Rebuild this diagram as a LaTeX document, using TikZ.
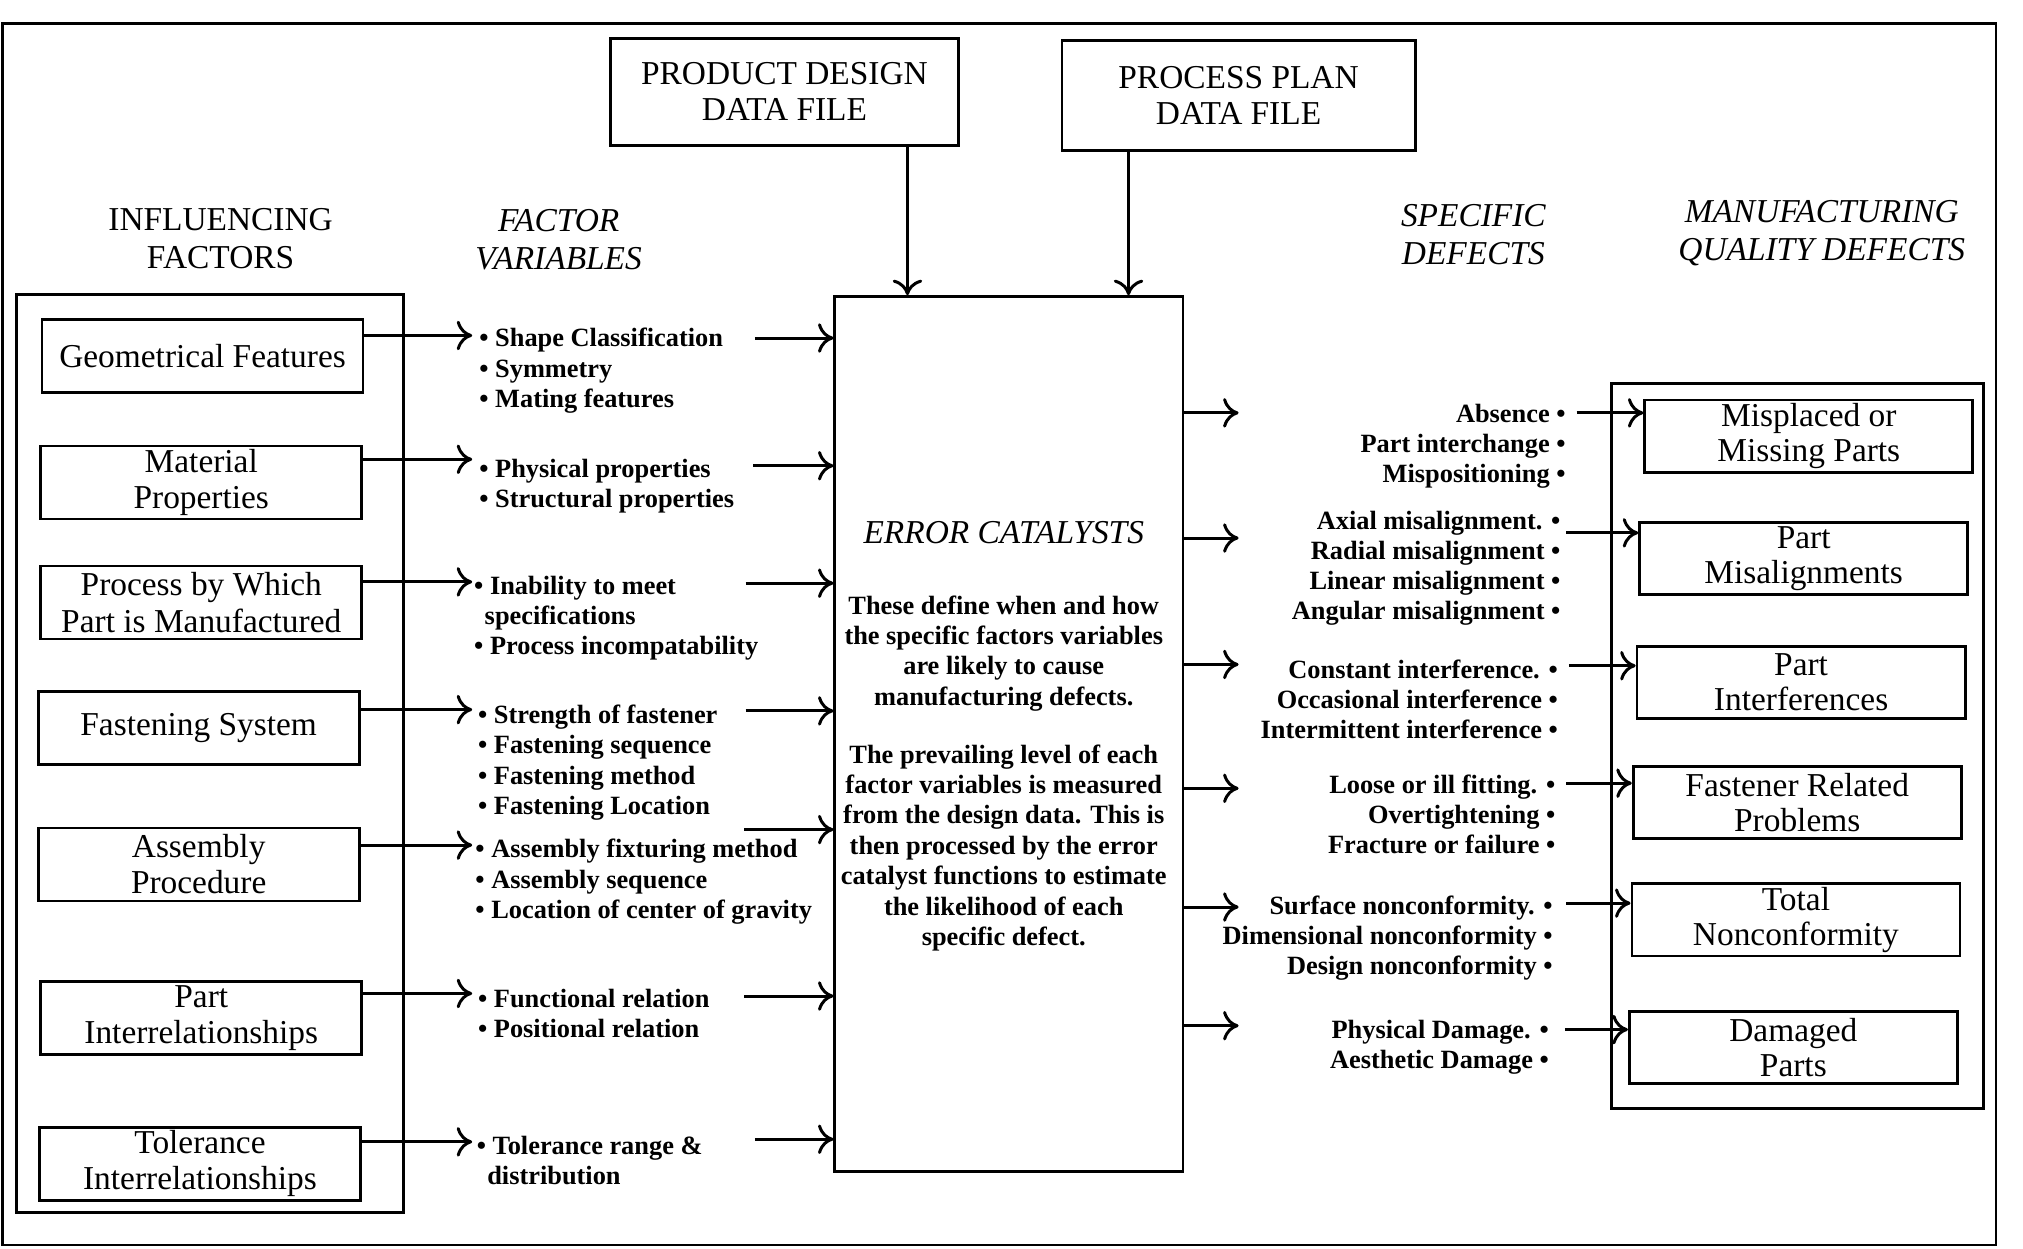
\documentclass[tikz,border=0pt]{standalone}
\usepackage{fontspec}
\setmainfont{Liberation Serif}
\usetikzlibrary{arrows.meta}

\tikzset{
  frame/.style={draw, line width=0.8pt, inner sep=0pt},
  factorbox/.style={frame, minimum width=32.1mm, minimum height=7.3mm, align=center, font=\fontsize{9.5}{10.3}\selectfont},
  defectbox/.style={frame, minimum width=32.8mm, minimum height=7.2mm, align=center, font=\fontsize{9.5}{10}\selectfont},
  filebox/.style={frame, align=center, font=\fontsize{9.5}{10.3}\selectfont},
  heading/.style={align=center, font=\fontsize{9.5}{11}\selectfont},
  headit/.style={heading, font=\itshape\fontsize{9.5}{10.8}\selectfont},
  varlist/.style={anchor=north west, align=left, inner sep=0pt, font=\bfseries\fontsize{7.5}{8.6}\selectfont},
  deflist/.style={anchor=north east, align=right, inner sep=0pt, font=\bfseries\fontsize{7.5}{8.5}\selectfont},
  arr/.style={-{To[length=4.4pt,width=8.4pt]}, line width=0.85pt},
}

\begin{document}
\begin{tikzpicture}[x=0.129mm, y=-0.129mm]
\useasboundingbox (0,0) rectangle (1568,968);
\draw[line width=0.8pt] (2,18) rectangle (1547,965);

% data files
\node[filebox, minimum width=34.8mm, minimum height=10.7mm] (pd) at (608,71) {PRODUCT DESIGN\\DATA FILE};
\node[filebox, minimum width=35.3mm, minimum height=11mm] (pp) at (960,74) {PROCESS PLAN\\DATA FILE};

% column headings
\node[heading] (hinf) at (171,185) {INFLUENCING\\FACTORS};
\node[headit] (hvar) at (433,186) {FACTOR\\VARIABLES};
\node[headit] (hdef) at (1142,182) {SPECIFIC\\DEFECTS};
\node[headit] (hmqd) at (1412,181) {MANUFACTURING\\QUALITY DEFECTS};

% error catalysts
\node[frame, minimum width=34.8mm, minimum height=87.5mm] (cat) at (782,569) {};
\node[font=\itshape\fontsize{9.5}{11}\selectfont] (cattitle) at (778,413) {ERROR CATALYSTS};
\node[anchor=north, align=center, inner sep=0pt, font=\bfseries\fontsize{7.5}{8.65}\selectfont] (cattext) at (778,461)
  {These define when and how\\the specific factors variables\\are likely to cause\\manufacturing defects.\\[7.8pt]
   The prevailing level of each\\factor variables is measured\\from the design data. This is\\then processed by the error\\catalyst functions to estimate\\the likelihood of each\\specific defect.};
\draw[arr] ([xshift=12.3mm]pd.south) -- ([xshift=12.3mm]pd.south |- cat.north);
\draw[arr] ([xshift=-11mm]pp.south) -- ([xshift=-11mm]pp.south |- cat.north);

% influencing factors
\node[frame, minimum width=38.7mm, minimum height=91.8mm] (inf) at (163,584) {};
\foreach \n/\x/\y/\t in {geo/157/276/Geometrical Features, mat/156/374/Material\\Properties,
    proc/156/467/Process by Which\\Part is Manufactured, fast/154/564/Fastening System,
    asm/154/670/Assembly\\Procedure, part/156/789/Part\\Interrelationships,
    tol/155/902/Tolerance\\Interrelationships}
  \node[factorbox] (\n) at (\x,\y) {\t};

% factor variables
\node[varlist] (v1) at (371,254) {\textbullet\ Shape Classification\\\textbullet\ Symmetry\\\textbullet\ Mating features};
\node[varlist] (v2) at (371,355) {\textbullet\ Physical properties\\\textbullet\ Structural properties};
\node[varlist] (v3) at (367,446) {\textbullet\ Inability to meet\\\hspace*{3pt}specifications\\\textbullet\ Process incompatability};
\node[varlist] (v4) at (370,546) {\textbullet\ Strength of fastener\\\textbullet\ Fastening sequence\\\textbullet\ Fastening method\\\textbullet\ Fastening Location};
\node[varlist] (v5) at (368,650) {\textbullet\ Assembly fixturing method\\\textbullet\ Assembly sequence\\\textbullet\ Location of center of gravity};
\node[varlist] (v6) at (370,766) {\textbullet\ Functional relation\\\textbullet\ Positional relation};
\node[varlist] (v7) at (369,880) {\textbullet\ Tolerance range \&\\\hspace*{3pt}distribution};

\foreach \n/\ya/\xb/\yb [count=\i] in {geo/260/585/262, mat/356/584/361, proc/451/578/452,
    fast/550/578/551, asm/655/577/643, part/770/577/772, tol/885/585/883} {
  \coordinate (a\i) at (366,\ya);
  \coordinate (b\i) at (\xb,\yb);
  \draw[arr] (\n.east |- a\i) -- (a\i);
  \draw[arr] (b\i) -- (cat.west |- b\i);
}

% specific defects
\node[deflist] (d1) at (1214,313) {Absence \textbullet\\Part interchange \textbullet\\Mispositioning \textbullet};
\node[deflist] (d2) at (1210,396) {Axial misalignment. \textbullet\\Radial misalignment \textbullet\\Linear misalignment \textbullet\\Angular misalignment \textbullet};
\node[deflist] (d3) at (1208,511) {Constant interference. \textbullet\\Occasional interference \textbullet\\Intermittent interference \textbullet};
\node[deflist] (d4) at (1206,600) {Loose or ill fitting. \textbullet\\Overtightening \textbullet\\Fracture or failure \textbullet};
\node[deflist] (d5) at (1204,694) {Surface nonconformity. \textbullet\\Dimensional nonconformity \textbullet\\Design nonconformity \textbullet};
\node[deflist] (d6) at (1201,790) {Physical Damage. \textbullet\\Aesthetic Damage \textbullet};

% manufacturing quality defects
\node[frame, minimum width=37.2mm, minimum height=72.5mm] (mqd) at (1393,578) {};
\foreach \n/\x/\y/\t in {m1/1402/338/Misplaced or\\Missing Parts, m2/1398/433/Part\\Misalignments,
    m3/1396/529/Part\\Interferences, m4/1393/622/Fastener Related\\Problems,
    m5/1392/713/Total\\Nonconformity, m6/1390/812/Damaged\\Parts}
  \node[defectbox] (\n) at (\x,\y) {\t};

\foreach \yc/\xe/\ye [count=\i] in {320/1222/320, 417/1214/413, 515/1216/516, 611/1214/607,
    703/1214/700, 795/1213/798} {
  \coordinate (c\i) at (960,\yc);
  \coordinate (e\i) at (\xe,\ye);
  \draw[arr] (cat.east |- c\i) -- (c\i);
  \draw[arr] (e\i) -- (m\i.west |- e\i);
}
\end{tikzpicture}
\end{document}
